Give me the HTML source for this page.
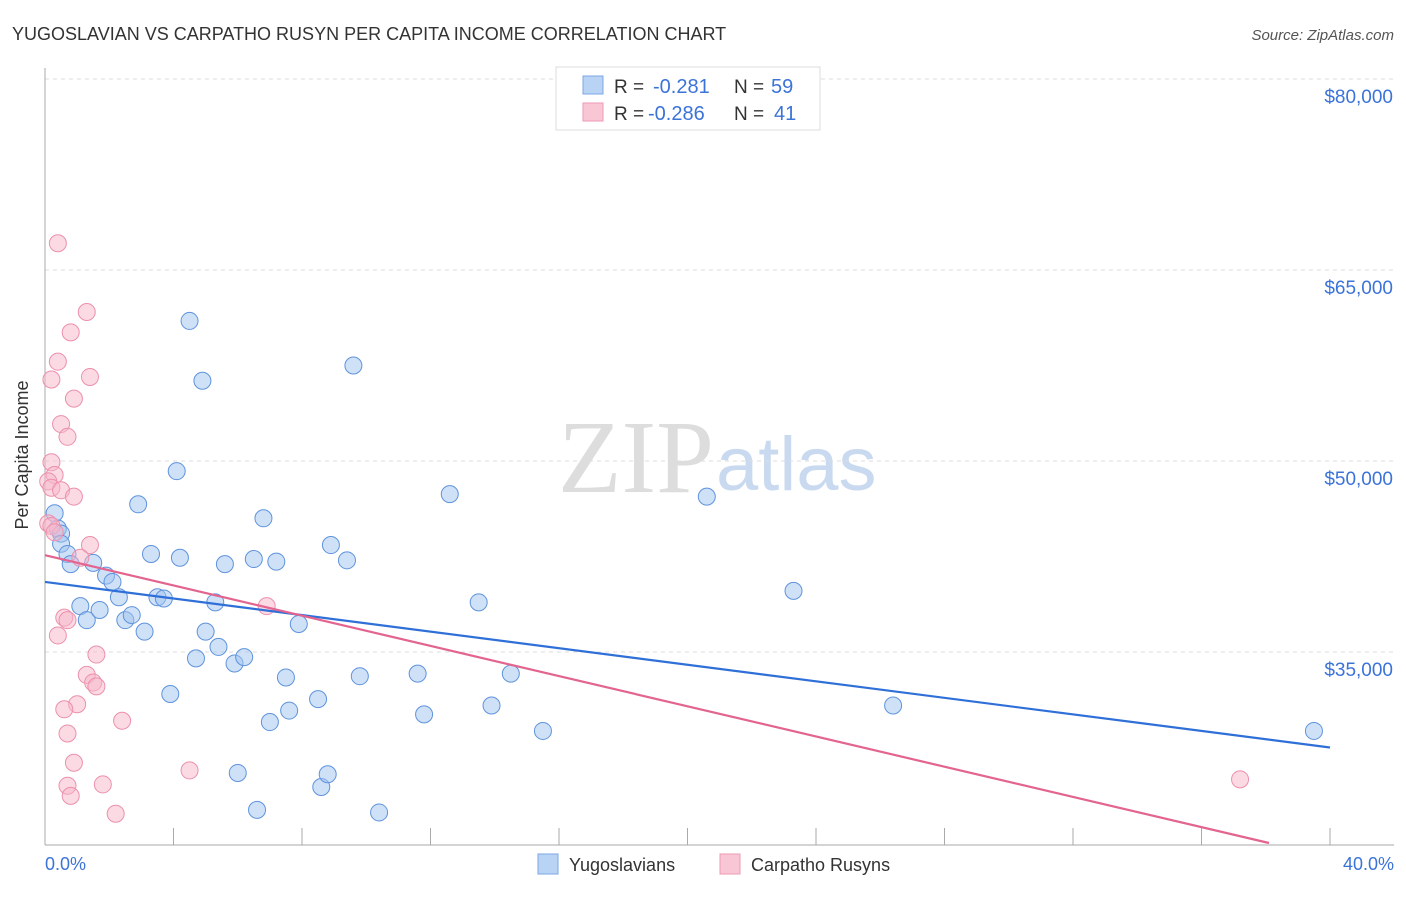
<!DOCTYPE html>
<html><head><meta charset="utf-8"><style>
body{margin:0;background:#fff;font-family:"Liberation Sans",sans-serif}
</style></head><body>
<svg width="1406" height="892" xmlns="http://www.w3.org/2000/svg" font-family="Liberation Sans, sans-serif">
<text x="12" y="40" font-size="18" fill="#333">YUGOSLAVIAN VS CARPATHO RUSYN PER CAPITA INCOME CORRELATION CHART</text>
<text x="1394" y="40" font-size="15" fill="#555" font-style="italic" text-anchor="end">Source: ZipAtlas.com</text>
<text x="714" y="492" font-size="104" fill="#ddd" text-anchor="end" font-family="Liberation Serif, serif">ZIP</text>
<text x="716" y="490" font-size="76" fill="#c9daf0">atlas</text>
<g id="grid"></g>
<line x1="45" y1="68" x2="45" y2="845" stroke="#aaa"/>
<line x1="45" y1="845" x2="1394" y2="845" stroke="#aaa"/>
<g id="xt"></g>
<text x="28" y="455" font-size="18" fill="#333" transform="rotate(-90 28 455)" text-anchor="middle">Per Capita Income</text>
<text x="45" y="870" font-size="18" fill="#3b73d9">0.0%</text>
<text x="1394" y="870" font-size="18" fill="#3b73d9" text-anchor="end">40.0%</text>
<g id="pts"></g>
<g id="lines"></g>
<g>
<rect x="556" y="67" width="264" height="63" fill="#fff" stroke="#ddd"/>
<rect x="583" y="76" width="20" height="18" fill="#b9d3f5" stroke="#7aa7e6"/>
<rect x="583" y="103" width="20" height="18" fill="#f9c6d5" stroke="#ee9ab3"/>
<text x="614" y="93" font-size="19" fill="#333">R =</text>
<text x="653" y="93" font-size="20" fill="#3b73d9">-0.281</text>
<text x="734" y="93" font-size="19" fill="#333">N =</text>
<text x="771" y="93" font-size="20" fill="#3b73d9">59</text>
<text x="614" y="120" font-size="19" fill="#333">R =</text>
<text x="648" y="120" font-size="20" fill="#3b73d9">-0.286</text>
<text x="734" y="120" font-size="19" fill="#333">N =</text>
<text x="774" y="120" font-size="20" fill="#3b73d9">41</text>
</g>
<g>
<rect x="538" y="854" width="20" height="20" fill="#b9d3f5" stroke="#7aa7e6"/>
<text x="569" y="871" font-size="18" fill="#333">Yugoslavians</text>
<rect x="720" y="854" width="20" height="20" fill="#f9c6d5" stroke="#ee9ab3"/>
<text x="751" y="871" font-size="18" fill="#333">Carpatho Rusyns</text>
</g>
</svg>
<script>
const yTicks=[80000,65000,50000,35000];
const yTickLabels=["$80,000","$65,000","$50,000","$35,000"];
const xTicks=[0,4,8,12,16,20,24,28,32,36,40];
const blueX=[0.3,0.4,0.5,0.5,0.7,0.8,1.1,1.3,1.5,1.7,1.9,2.1,2.3,2.5,2.7,3.1,2.9,3.3,3.5,3.7,3.9,4.1,4.2,4.5,4.7,4.9,5.0,5.3,5.4,5.6,5.9,6.0,6.2,6.5,6.6,6.8,7.0,7.2,7.5,7.6,7.9,8.5,8.6,8.8,8.9,9.4,9.6,9.8,10.4,11.6,11.8,12.6,13.5,13.9,14.5,15.5,20.6,23.3,26.4,39.5];
const blueY=[45900,44700,44300,43500,42700,41900,38600,37500,42000,38300,41000,40500,39300,37500,37900,36600,46600,42700,39300,39200,31700,49200,42400,61000,34500,56300,36600,38900,35400,41900,34100,25500,34600,42300,22600,45500,29500,42100,33000,30400,37200,31300,24400,25400,43400,42200,57500,33100,22400,33300,30100,47400,38900,30800,33300,28800,47200,39800,30800,28800];
const pinkX=[0.4,1.3,0.8,0.4,0.2,1.4,0.9,0.5,0.7,0.2,0.3,0.1,0.2,0.5,0.9,0.1,0.2,0.3,1.4,1.1,0.6,0.7,0.4,6.9,1.6,1.3,1.5,1.6,1.0,0.6,2.4,0.7,0.9,4.5,0.7,1.8,0.8,2.2,37.2];
const pinkY=[67100,61700,60100,57800,56400,56600,54900,52900,51900,49900,48900,48400,47900,47700,47200,45100,44900,44400,43400,42400,37700,37500,36300,38600,34800,33200,32600,32300,30900,30500,29600,28600,26300,25700,24500,24600,23700,22300,25000];
const blueLine=[0,40.5,40,27.5];
const pinkLine=[0,42.6,38.1,20];
const NS="http://www.w3.org/2000/svg";
const X=v=>45+v/40*1285;
const Y=v=>79+(80000-v)/15000*191;
function mk(tag,attrs,parent){const e=document.createElementNS(NS,tag);for(const k in attrs)e.setAttribute(k,attrs[k]);document.getElementById(parent).appendChild(e);return e;}
yTicks.forEach((t,i)=>{
 const l=mk('line',{x1:45,x2:1394,y1:Y(t),y2:Y(t),stroke:'#ddd','stroke-dasharray':'4 4'},'grid');
 
 
 const tx=mk('text',{x:1393,y:Y(t)+24,'font-size':19,fill:'#3b73d9','text-anchor':'end'},'grid');
 tx.textContent=yTickLabels[i];
 
 
});
xTicks.forEach(t=>{
 const l=mk('line',{x1:X(t),x2:X(t),y1:828,y2:845,stroke:'#aaa'},'xt');
 
 
});
blueX.forEach((x,i)=>{
 const c=mk('circle',{cx:X(x),cy:Y(blueY[i]),r:8.5,fill:'rgba(160,196,240,0.5)',stroke:'#5f93dd','stroke-width':1},'pts');
 
 
});
pinkX.forEach((x,i)=>{
 const c=mk('circle',{cx:X(x),cy:Y(pinkY[i]),r:8.5,fill:'rgba(248,182,202,0.5)',stroke:'#ec90ac','stroke-width':1},'pts');
 
 
});
const bl=mk('line',{x1:X(blueLine[0]),y1:Y(blueLine[1]*1000),x2:X(blueLine[2]),y2:Y(blueLine[3]*1000),stroke:'#2f6fd8','stroke-width':2.2},'lines');


const pl=mk('line',{x1:X(pinkLine[0]),y1:Y(pinkLine[1]*1000),x2:X(pinkLine[2]),y2:Y(pinkLine[3]*1000),stroke:'#e2648f','stroke-width':2.2},'lines');


</script>
</body></html>
